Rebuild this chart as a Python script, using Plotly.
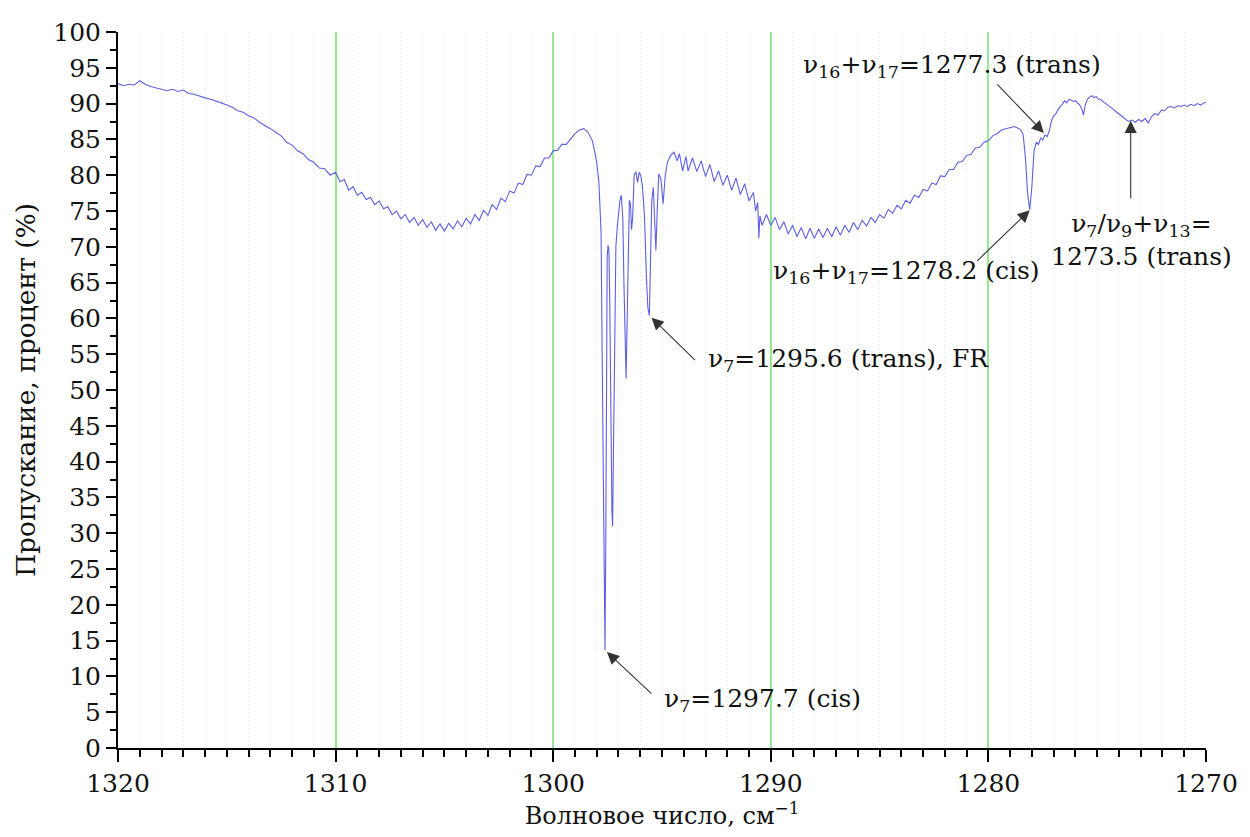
import plotly.graph_objects as go

# ---- data ----
wavenumber = [
    1320.00, 1319.75, 1319.50, 1319.25, 1319.00, 1318.75, 1318.50, 1318.25, 1318.00, 1317.75,
    1317.50, 1317.25, 1317.00, 1316.75, 1316.50, 1316.25, 1316.00, 1315.75, 1315.50, 1315.25,
    1315.00, 1314.75, 1314.50, 1314.25, 1314.00, 1313.75, 1313.50, 1313.25, 1313.00, 1312.75,
    1312.50, 1312.25, 1312.00, 1311.75, 1311.50, 1311.25, 1311.00, 1310.75, 1310.50, 1310.25,
    1310.0, 1309.8, 1309.6, 1309.4, 1309.2, 1309.0, 1308.8, 1308.6, 1308.4, 1308.2,
    1308.0, 1307.8, 1307.6, 1307.4, 1307.2, 1307.0, 1306.8, 1306.6, 1306.4, 1306.2,
    1306.0, 1305.8, 1305.6, 1305.4, 1305.2, 1305.0, 1304.8, 1304.6, 1304.4, 1304.2,
    1304.0, 1303.8, 1303.6, 1303.4, 1303.2, 1303.0, 1302.8, 1302.6, 1302.4, 1302.2,
    1302.0, 1301.8, 1301.6, 1301.4, 1301.2, 1301.0, 1300.8, 1300.6, 1300.4, 1300.2,
    1300.0, 1299.8, 1299.6, 1299.4, 1299.2,
    1299.0, 1298.8, 1298.6, 1298.4, 1298.3, 1298.2, 1298.1, 1298.0, 1297.9, 1297.8,
    1297.75, 1297.7, 1297.65, 1297.62, 1297.58, 1297.55, 1297.52, 1297.48, 1297.44, 1297.4,
    1297.35, 1297.3, 1297.27, 1297.22, 1297.18, 1297.12, 1297.05, 1297.0, 1296.93, 1296.87,
    1296.8, 1296.75, 1296.7, 1296.65, 1296.6, 1296.55, 1296.5, 1296.45, 1296.4, 1296.35,
    1296.28, 1296.2, 1296.12, 1296.05, 1295.98, 1295.9, 1295.8, 1295.72, 1295.65, 1295.58,
    1295.52, 1295.47, 1295.4, 1295.33, 1295.28, 1295.22, 1295.15, 1295.05, 1294.95, 1294.85,
    1294.75, 1294.6, 1294.45, 1294.3, 1294.2, 1294.05,
    1293.9, 1293.8, 1293.6, 1293.4, 1293.2, 1293.0, 1292.8, 1292.6, 1292.4, 1292.2,
    1292.0, 1291.8, 1291.6, 1291.4, 1291.2, 1291.0, 1290.8, 1290.7, 1290.6, 1290.55,
    1290.5, 1290.4, 1290.2, 1290.0, 1289.8, 1289.6, 1289.4, 1289.2, 1289.0, 1288.8,
    1288.6, 1288.4, 1288.2, 1288.0, 1287.8, 1287.6, 1287.4, 1287.2, 1287.0, 1286.8,
    1286.6, 1286.4, 1286.2, 1286.0, 1285.8, 1285.6, 1285.4, 1285.2, 1285.0, 1284.8,
    1284.6, 1284.4, 1284.2, 1284.0, 1283.8, 1283.6, 1283.4, 1283.2, 1283.0, 1282.8,
    1282.6, 1282.4, 1282.2, 1282.0, 1281.8, 1281.6, 1281.4, 1281.2, 1281.0, 1280.8,
    1280.6, 1280.4, 1280.2, 1280.0, 1279.8, 1279.6, 1279.4, 1279.2, 1279.0, 1278.8,
    1278.6, 1278.5, 1278.4, 1278.3, 1278.2, 1278.1, 1278.0, 1277.95, 1277.9, 1277.85,
    1277.8, 1277.7, 1277.6, 1277.5, 1277.4, 1277.3, 1277.2, 1277.1, 1277.0, 1276.9,
    1276.8, 1276.7, 1276.6, 1276.5, 1276.4, 1276.3, 1276.2, 1276.1, 1276.0, 1275.9,
    1275.8, 1275.7, 1275.63, 1275.55, 1275.45, 1275.35, 1275.25, 1275.15, 1275.05, 1274.95,
    1274.85, 1274.75, 1274.6, 1274.45, 1274.3, 1274.15, 1274.0, 1273.85, 1273.7, 1273.55,
    1273.4, 1273.25, 1273.1, 1272.95, 1272.8, 1272.65, 1272.5, 1272.35, 1272.2, 1272.05,
    1271.9, 1271.75, 1271.6, 1271.45, 1271.3, 1271.15, 1271.0, 1270.85, 1270.7, 1270.55,
    1270.4, 1270.25, 1270.1, 1270.0,
]

transmittance = [
    92.8, 92.5, 92.7, 92.6, 93.2, 92.7, 92.4, 92.2, 92.0, 91.8,
    92.0, 91.7, 91.9, 91.4, 91.3, 91.0, 90.8, 90.6, 90.4, 90.1,
    89.8, 89.5, 89.0, 88.8, 88.3, 88.0, 87.4, 87.0, 86.5, 86.0,
    85.5, 84.6, 84.2, 83.4, 83.0, 82.2, 81.8, 81.0, 80.9, 80.0,
    80.4, 79.1, 79.4, 77.9, 78.4, 77.2, 77.6, 76.6, 76.9, 75.9,
    76.4, 75.3, 75.6, 74.5, 75.0, 73.9, 74.5, 73.4, 74.1, 73.0,
    73.8, 72.7, 73.5, 72.3, 73.2, 72.2, 73.3, 72.5, 73.6, 72.8,
    74.0, 73.2, 74.5, 73.7, 75.1, 74.4, 75.9, 75.2, 76.8, 76.3,
    77.8, 77.5, 78.9, 78.7, 80.1, 80.0, 81.3, 81.2, 82.4, 82.4,
    83.4, 83.5, 84.3, 84.3, 85.1,
    85.8, 86.3, 86.5, 86.0, 85.5, 84.8, 83.4, 81.8, 79.0, 72.0,
    55.0, 40.0, 20.0, 13.7, 30.0, 55.0, 68.5, 70.2, 69.5, 62.0,
    45.0, 33.0, 31.0, 45.0, 60.0, 70.0, 73.0, 74.5, 76.5, 77.2,
    74.0, 65.0, 56.0, 51.6, 60.0, 72.0, 76.5, 76.0, 72.4, 74.0,
    80.0, 80.5, 79.0, 80.4, 80.0, 78.5, 74.0, 66.0, 61.5, 60.4,
    68.0, 76.5, 78.3, 74.0, 69.5, 75.0, 80.2, 79.5, 76.0, 80.0,
    81.8, 82.8, 83.2, 82.0, 83.0, 80.6,
    82.6, 80.6, 82.4, 80.5, 82.0, 79.8, 81.5, 79.1, 80.6, 78.6,
    80.0, 77.9, 79.6, 77.3, 78.8, 76.4, 77.6, 75.0, 76.2, 71.2,
    74.3, 73.0, 74.5, 73.0, 74.1, 72.4, 73.5, 71.8, 73.0, 71.4,
    72.7, 71.1, 72.6, 71.2, 72.5, 71.3, 72.6, 71.4, 72.8, 71.6,
    73.0, 72.0, 73.4, 72.4, 73.7, 72.9, 74.1, 73.4, 74.5, 74.0,
    75.2, 74.7, 75.8, 75.3, 76.5, 76.1, 77.2, 76.9, 78.0, 77.8,
    78.9, 78.7, 79.9, 79.8, 80.8, 80.8, 81.8, 81.9, 82.8, 82.9,
    83.8, 83.9, 84.6, 84.8, 85.5, 85.8, 86.3, 86.5, 86.6, 86.8,
    86.5, 86.3, 85.6, 82.5, 77.5, 75.2, 78.5, 81.5, 83.5, 84.0,
    84.6, 84.3, 85.2, 84.9, 85.6, 85.4, 86.2, 87.6, 88.3, 88.6,
    89.2, 89.6, 89.9, 90.4, 90.1, 90.6, 90.5, 90.3, 90.4, 90.1,
    89.8, 89.2, 88.4, 89.8, 90.6, 90.9, 91.1, 90.8, 91.0, 90.6,
    90.6, 90.3, 90.0, 89.6, 89.3, 88.9, 88.6, 88.2, 87.8, 87.5,
    87.7, 87.4, 87.8, 87.5, 87.9, 87.3, 88.2, 88.6, 88.4, 89.1,
    89.0, 89.5, 89.6, 89.4, 89.7, 89.6, 89.8, 89.6, 89.9, 89.7,
    90.0, 89.8, 90.1, 90.2,
]

x_ticks = [1320, 1310, 1300, 1290, 1280, 1270]
y_ticks = list(range(0, 101, 5))

# annotation arrows: (head x, head y, tail dx px, tail dy px)
arrows = [
    (1277.45, 85.9, -48, -50),
    (1278.10, 75.1, -54, 52),
    (1273.46, 87.6, 0, 79),
    (1295.48, 60.1, 45, 44),
    (1297.53, 13.4, 46, 43),
]
labels = [
    ("ν<sub>16</sub>+ν<sub>17</sub>=1277.3 (trans)", 1288.61, 95.3, "left"),
    ("ν<sub>16</sub>+ν<sub>17</sub>=1278.2 (cis)", 1289.97, 66.5, "left"),
    ("ν<sub>7</sub>/ν<sub>9</sub>+ν<sub>13</sub>=<br>1273.5 (trans)", 1272.96, 71.0, "center"),
    ("ν<sub>7</sub>=1295.6 (trans), FR", 1292.98, 54.2, "left"),
    ("ν<sub>7</sub>=1297.7 (cis)", 1295.02, 6.7, "left"),
]

FONT = "DejaVu Serif"
FS = 25

fig = go.Figure()
fig.add_trace(go.Scatter(
    x=wavenumber, y=transmittance, mode="lines",
    line=dict(color="rgb(95,95,225)", width=1.1),
    showlegend=False, hoverinfo="skip",
))

for hx, hy, dx, dy in arrows:
    fig.add_annotation(x=hx, y=hy, ax=dx, ay=dy, text="", showarrow=True,
                       arrowhead=2, arrowsize=2.2, arrowwidth=1.1,
                       arrowcolor="#333333", standoff=0)

for txt, tx, ty, anc in labels:
    fig.add_annotation(x=tx, y=ty, text=txt, showarrow=False,
                       xanchor=anc, yanchor="middle", align="center",
                       font=dict(family=FONT, size=FS, color="#111111"))

fig.update_layout(
    width=1250, height=837,
    margin=dict(l=118, r=33, t=32, b=89),
    paper_bgcolor="white", plot_bgcolor="white",
    font=dict(family=FONT, size=FS, color="#111111"),
    xaxis=dict(
        range=[1320, 1270], tickvals=x_ticks, ticktext=[str(v) for v in x_ticks],
        showline=True, linecolor="black", linewidth=2,
        ticks="outside", ticklen=12, tickwidth=2, tickcolor="black",
        showgrid=True, gridcolor="rgb(150,232,150)", gridwidth=2,
        zeroline=False, layer="above traces",
        minor=dict(dtick=1, ticks="outside", ticklen=7, tickwidth=2, tickcolor="black",
                   showgrid=True, gridcolor="rgb(212,240,212)", griddash="1px,3px",
                   gridwidth=1),
        title=dict(text="Волновое число, см<sup>−1</sup>", standoff=10,
                   font=dict(family=FONT, size=24)),
        tickfont=dict(family=FONT, size=FS),
    ),
    yaxis=dict(
        range=[0, 100], tickvals=y_ticks, ticktext=[str(v) for v in y_ticks],
        showline=True, linecolor="black", linewidth=2,
        ticks="outside", ticklen=10, tickwidth=2, tickcolor="black",
        showgrid=False, zeroline=False,
        minor=dict(dtick=2.5, ticks="outside", ticklen=6, tickwidth=2, tickcolor="black",
                   showgrid=False),
        title=dict(text="Пропускание, процент (%)", standoff=10,
                   font=dict(family=FONT, size=26.5)),
        tickfont=dict(family=FONT, size=FS),
    ),
)

fig.write_html("out.html")
